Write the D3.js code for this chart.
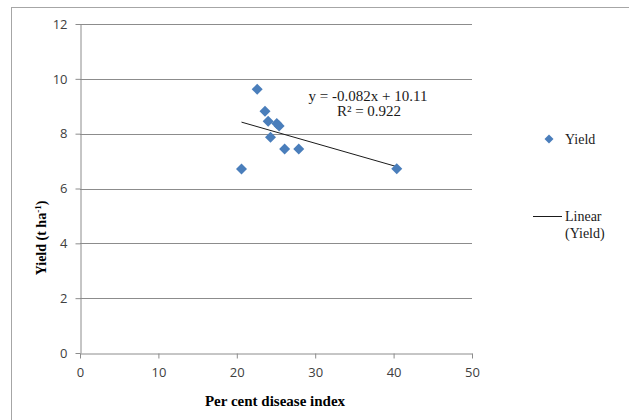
<!DOCTYPE html>
<html><head><meta charset="utf-8">
<script src="https://cdn.jsdelivr.net/npm/d3@7"></script>
<style>body{margin:0;background:#fff}svg{display:block}</style>
</head><body>
<script>
const diseaseIndex = [22.6, 23.6, 24.0, 25.1, 25.4, 24.3, 26.1, 27.9, 20.6, 40.4];
const yieldVals   = [9.62, 8.82, 8.45, 8.37, 8.28, 7.87, 7.44, 7.44, 6.71, 6.72];
const xTicks = [0, 10, 20, 30, 40, 50];
const yTicks = [0, 2, 4, 6, 8, 10, 12];
const slope = -0.082, intercept = 10.11;
const eqText = "y = -0.082x + 10.11";
const r2Text = "R² = 0.922";

const W = 629, H = 420;
const svg = d3.select("body").append("svg").attr("width", W).attr("height", H);
svg.append("rect").attr("x", 11.5).attr("y", 7.5).attr("width", W).attr("height", H)
  .attr("fill", "#fff").attr("stroke", "#a6a6a6").attr("stroke-width", 1);

const x = d3.scaleLinear().domain([0, 50]).range([80, 472]);
const y = d3.scaleLinear().domain([0, 12]).range([353, 24]);

// gridlines
svg.append("g").selectAll("line").data(yTicks.filter(d => d > 0)).join("line")
  .attr("x1", x(0)).attr("x2", x(50))
  .attr("y1", d => Math.round(y(d)) + 0.5).attr("y2", d => Math.round(y(d)) + 0.5)
  .attr("stroke", "#8c8c8c").attr("stroke-width", 1);

const tickFont = "'Open Sans', 'DejaVu Sans', sans-serif";
const yAxis = svg.append("g").attr("transform", `translate(${x(0) + 0.5},0)`)
  .call(d3.axisLeft(y).tickValues(yTicks).tickSize(5).tickSizeOuter(0).tickPadding(8));
const xAxis = svg.append("g").attr("transform", `translate(0,${Math.round(y(0)) + 0.5})`)
  .call(d3.axisBottom(x).tickValues(xTicks).tickSize(5).tickSizeOuter(0).tickPadding(9));
[yAxis, xAxis].forEach(a => {
  a.select(".domain").attr("stroke", "#8c8c8c");
  a.selectAll(".tick line").attr("stroke", "#8c8c8c");
  a.selectAll(".tick text").attr("fill", "#404040").style("font-family", tickFont).style("font-size", "13px");
});

// axis titles
const serif = "'Liberation Serif', 'Times New Roman', serif";
svg.append("text").attr("x", 275).attr("y", 406).attr("text-anchor", "middle")
  .style("font-family", serif).style("font-weight", "bold").style("font-size", "15px")
  .text("Per cent disease index");
const yt = svg.append("text").attr("transform", "translate(46,238) rotate(-90)").attr("text-anchor", "middle")
  .style("font-family", serif).style("font-weight", "bold").style("font-size", "14px");
yt.append("tspan").text("Yield (t ha");
yt.append("tspan").attr("dy", -5).style("font-size", "9px").text("-1");
yt.append("tspan").attr("dy", 5).text(")");

// trend line
const xMin = d3.min(diseaseIndex), xMax = d3.max(diseaseIndex);
svg.append("line").attr("x1", x(xMin)).attr("y1", y(slope * xMin + intercept))
  .attr("x2", x(xMax)).attr("y2", y(slope * xMax + intercept))
  .attr("stroke", "#1a1a1a").attr("stroke-width", 1);

// points
const diamond = r => `M0,${-r}L${r},0L0,${r}L${-r},0Z`;
const data = diseaseIndex.map((d, i) => ({x: d, y: yieldVals[i]}));
svg.append("g").selectAll("path").data(data).join("path")
  .attr("transform", d => `translate(${x(d.x)},${y(d.y)})`)
  .attr("d", diamond(5.5)).attr("fill", "#4a7ebb");

// equation
svg.append("text").attr("x", 368).attr("y", 101).attr("text-anchor", "middle")
  .style("font-family", serif).style("font-size", "15px").attr("fill", "#1a1a1a").text(eqText);
svg.append("text").attr("x", 369).attr("y", 116).attr("text-anchor", "middle")
  .style("font-family", serif).style("font-size", "15px").attr("fill", "#1a1a1a").text(r2Text);

// legend
svg.append("path").attr("transform", "translate(549,139)").attr("d", diamond(4.5)).attr("fill", "#4a7ebb");
svg.append("text").attr("x", 565).attr("y", 144).style("font-family", serif).style("font-size", "14px")
  .attr("fill", "#1a1a1a").text("Yield");
svg.append("line").attr("x1", 533).attr("x2", 562).attr("y1", 216.5).attr("y2", 216.5)
  .attr("stroke", "#1a1a1a").attr("stroke-width", 1);
svg.append("text").attr("x", 565).attr("y", 221).style("font-family", serif).style("font-size", "14px")
  .attr("fill", "#1a1a1a").text("Linear");
svg.append("text").attr("x", 565).attr("y", 238).style("font-family", serif).style("font-size", "14px")
  .attr("fill", "#1a1a1a").text("(Yield)");
</script>
</body></html>
